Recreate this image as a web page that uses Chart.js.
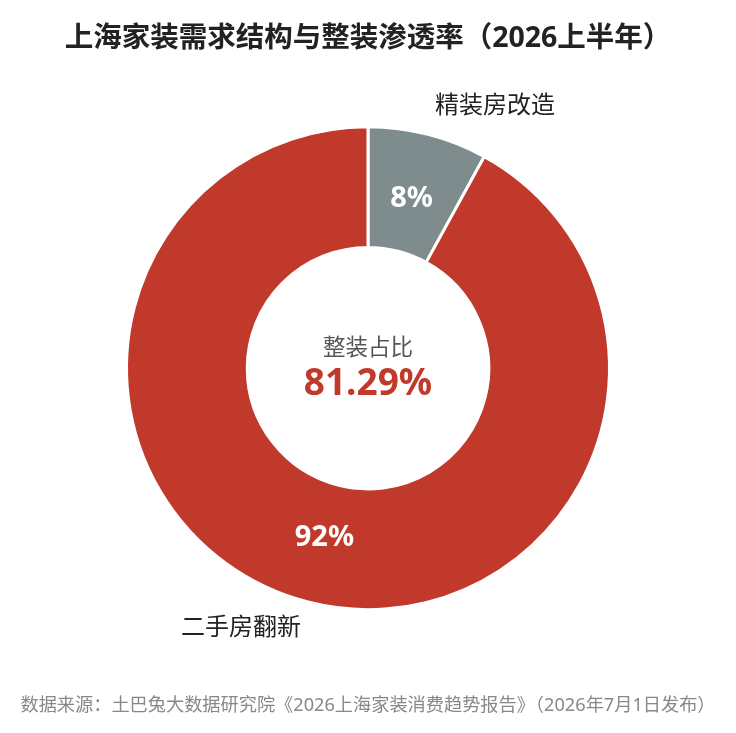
<!DOCTYPE html>
<html>
<head>
<meta charset="utf-8">
<script src="https://cdn.jsdelivr.net/npm/chart.js"></script>
<style>
  html, body { margin: 0; padding: 0; background: #fff; }
  #wrap { width: 736px; height: 733px; }
</style>
</head>
<body>
<div id="wrap"><canvas id="share-chart"></canvas></div>
<script>
// -------------- data --------------
const categories = ['精装房改造', '二手房翻新'];
const shares = [8, 92];
const sliceColors = ['#7f8c8d', '#c0392b'];
const centerLabel = '整装占比';
const integratedRate = 81.29;

const FONT = '"Noto Sans", "Noto Sans CJK SC", sans-serif';

// draws the % on each ring slice, the category name outside, and the centre text
const ringLabels = {
    id: 'ringLabels',
    afterDatasetsDraw(chart) {
        const ctx = chart.ctx;
        const meta = chart.getDatasetMeta(0);
        ctx.save();
        meta.data.forEach((arc, i) => {
            const p = arc.getProps(['x', 'y', 'startAngle', 'endAngle', 'innerRadius', 'outerRadius'], true);
            const mid = (p.startAngle + p.endAngle) / 2;
            const cos = Math.cos(mid), sin = Math.sin(mid);

            // percentage inside the ring
            const rMid = (p.innerRadius + p.outerRadius) / 2 - 6;
            ctx.fillStyle = '#fff';
            ctx.font = 'bold 29px ' + FONT;
            ctx.textAlign = 'center';
            ctx.textBaseline = 'middle';
            ctx.fillText(shares[i] + '%', p.x + rMid * cos, p.y + rMid * sin);

            // category name outside
            const rOut = p.outerRadius + 28;
            ctx.fillStyle = '#222';
            ctx.font = '24px ' + FONT;
            ctx.textAlign = cos >= 0 ? 'left' : 'right';
            ctx.fillText(categories[i], p.x + rOut * cos, p.y + rOut * sin - 1);
        });

        // centre text
        const c = meta.data[0];
        ctx.textAlign = 'center';
        ctx.fillStyle = '#555';
        ctx.font = '22.5px ' + FONT;
        ctx.fillText(centerLabel, c.x, c.y - 20);
        ctx.fillStyle = '#c0392b';
        ctx.font = 'bold 37px ' + FONT;
        ctx.fillText(integratedRate.toFixed(2) + '%', c.x, c.y + 16);
        ctx.restore();
    }
};

const shareData = {
    labels: categories,
    datasets: [{
        data: shares,
        backgroundColor: sliceColors,
        borderColor: '#fff',
        borderWidth: 3
    }]
};

const shareOptions = {
    responsive: true,
    maintainAspectRatio: false,
    animation: false,
    cutout: '50%',
    layout: { padding: 0 },
    plugins: {
        legend: { display: false },
        tooltip: { enabled: false },
        title: {
            display: true,
            text: '上海家装需求结构与整装渗透率（2026上半年）',
            color: '#222',
            font: { family: FONT, size: 28.5, weight: 'bold', lineHeight: 1.2 },
            padding: { top: 22, bottom: 69 }
        },
        subtitle: {
            display: true,
            position: 'bottom',
            text: '数据来源：土巴兔大数据研究院《2026上海家装消费趋势报告》（2026年7月1日发布）',
            color: '#888',
            font: { family: FONT, size: 18.2, lineHeight: 1.2 },
            padding: { top: 84, bottom: 16 }
        }
    }
};

new Chart(document.getElementById('share-chart'), {
    type: 'doughnut',
    data: shareData,
    options: shareOptions,
    plugins: [ringLabels]
});
</script>
</body>
</html>
